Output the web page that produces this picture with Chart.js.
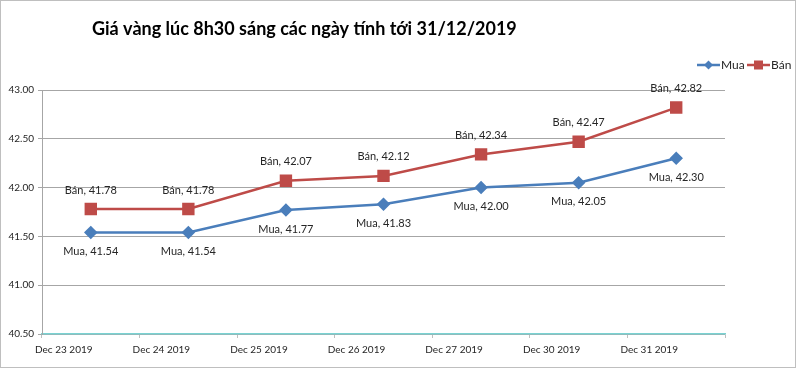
<!DOCTYPE html>
<html>
<head>
<meta charset="utf-8">
<script src="https://cdn.jsdelivr.net/npm/chart.js@4/dist/chart.umd.min.js"></script>
<style>
html,body{margin:0;padding:0;background:#fff;}
#wrap{width:800px;height:370px;position:relative;}
</style>
</head>
<body>
<div id="wrap"><canvas id="c" width="800" height="370"></canvas></div>
<script>
const categories = ["Dec 23 2019","Dec 24 2019","Dec 25 2019","Dec 26 2019","Dec 27 2019","Dec 30 2019","Dec 31 2019"];
const muaValues = [41.54, 41.54, 41.77, 41.83, 42.00, 42.05, 42.30];
const banValues = [41.78, 41.78, 42.07, 42.12, 42.34, 42.47, 42.82];
const seriesNames = ["Mua", "Bán"];
const titleText = "Giá vàng lúc 8h30 sáng các ngày tính tới 31/12/2019";
const yMin = 40.5, yMax = 43.0, yStep = 0.5;

const BLUE = "#4A7EBB", RED = "#BE4B48";
const FONT = "Lato, 'Open Sans', sans-serif";

function drawMarker(g, style, x, y, color) {
  g.fillStyle = color;
  if (style === "diamond") {
    g.beginPath(); g.moveTo(x, y - 4.5); g.lineTo(x + 4.5, y); g.lineTo(x, y + 4.5); g.lineTo(x - 4.5, y); g.closePath(); g.fill();
  } else {
    g.fillRect(x - 4.5, y - 4.5, 9, 9);
  }
}

const decor = {
  id: "decor",
  afterDraw(chart) {
    const ctx = chart.ctx;
    ctx.save();
    // title
    ctx.fillStyle = "#000";
    ctx.font = "bold 18px " + FONT;
    ctx.textBaseline = "middle";
    ctx.textAlign = "left";
    ctx.fillText(titleText, 92, 29);
    // legend (line + marker, Excel style)
    const items = [
      { x: 697, color: BLUE, style: "diamond", text: chart.data.datasets[0].label },
      { x: 747, color: RED, style: "square", text: chart.data.datasets[1].label }
    ];
    const ly = 65;
    ctx.font = "12px " + FONT;
    items.forEach(it => {
      ctx.strokeStyle = it.color; ctx.lineWidth = 2.5;
      ctx.beginPath(); ctx.moveTo(it.x, ly); ctx.lineTo(it.x + 23, ly); ctx.stroke();
      drawMarker(ctx, it.style, it.x + 11.5, ly, it.color);
      ctx.fillStyle = "#262626";
      ctx.fillText(it.text, it.x + 24, ly);
    });
    // outer border
    ctx.strokeStyle = "#BFBFBF";
    ctx.lineWidth = 1;
    ctx.strokeRect(0.5, 0.5, 795, 367);
    ctx.restore();
  },
  afterDatasetsDraw(chart) {
    const ctx = chart.ctx;
    ctx.save();
    ctx.font = "11px " + FONT;
    ctx.fillStyle = "#262626";
    ctx.textAlign = "center";
    ctx.textBaseline = "middle";
    chart.data.datasets.forEach((ds, di) => {
      const meta = chart.getDatasetMeta(di);
      meta.data.forEach((pt, i) => {
        const txt = ds.label + ", " + ds.data[i].toFixed(2);
        const dy = di === 0 ? 19 : -19;
        ctx.fillText(txt, pt.x, pt.y + dy);
      });
    });
    ctx.restore();
  }
};

new Chart(document.getElementById("c"), {
  type: "line",
  data: {
    labels: categories,
    datasets: [
      { label: seriesNames[0], data: muaValues, borderColor: BLUE, backgroundColor: BLUE,
        borderWidth: 2.5, pointStyle: "rectRot", pointRadius: 5, pointHoverRadius: 5, tension: 0 },
      { label: seriesNames[1], data: banValues, borderColor: RED, backgroundColor: RED,
        borderWidth: 2.5, pointStyle: "rect", pointRadius: 7, pointHoverRadius: 7, tension: 0 }
    ]
  },
  options: {
    responsive: false,
    animation: false,
    layout: { padding: { left: 0, right: 75, top: 90, bottom: 0 } },
    plugins: {
      title: { display: false },
      tooltip: { enabled: false },
      legend: { display: false }
    },
    scales: {
      x: {
        type: "category",
        offset: true,
        afterFit(s) { s.height = 36; },
        grid: { offset: true, drawOnChartArea: false, drawTicks: true, tickLength: 4, color: "#BFBFBF" },
        border: { color: "#79D2D2", width: 1.5 },
        ticks: { font: { family: FONT, size: 10 }, color: "#262626", labelOffset: -27, padding: 6, maxRotation: 0, autoSkip: false }
      },
      y: {
        min: yMin, max: yMax,
        afterFit(s) { s.width = 42; },
        grid: { color: "#A6A6A6", lineWidth: 1, drawTicks: true, tickLength: 4 },
        border: { color: "#A6A6A6" },
        ticks: { stepSize: yStep, font: { family: FONT, size: 10 }, color: "#262626", padding: 4,
          callback: v => Number(v).toFixed(2) }
      }
    }
  },
  plugins: [decor]
});
</script>
</body>
</html>
